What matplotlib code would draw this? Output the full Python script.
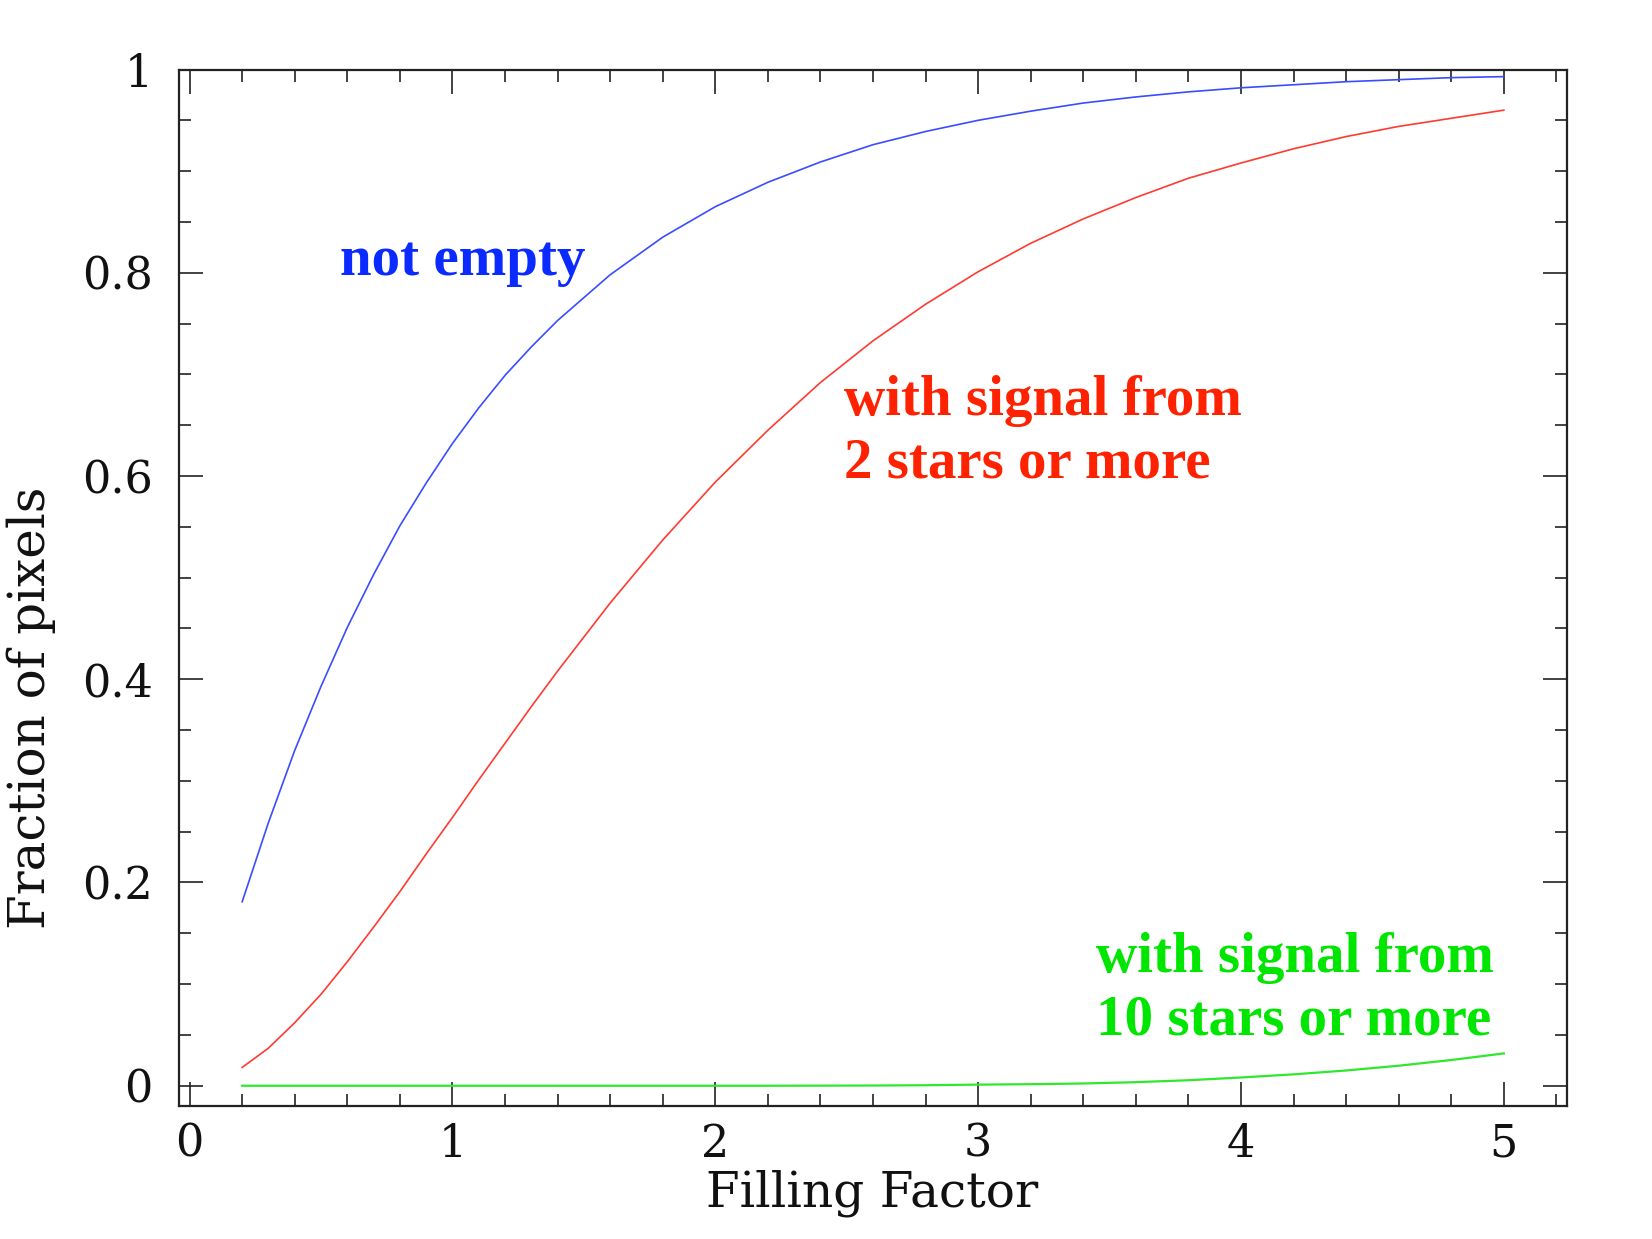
import matplotlib
matplotlib.use("Agg")
import matplotlib.pyplot as plt
from matplotlib.ticker import MultipleLocator, FuncFormatter

# Data
filling_factor = [0.2, 0.3, 0.4, 0.5, 0.6, 0.7, 0.8, 0.9, 1.0, 1.1, 1.2, 1.3, 1.4,
                  1.6, 1.8, 2.0, 2.2, 2.4, 2.6, 2.8, 3.0, 3.2, 3.4, 3.6, 3.8,
                  4.0, 4.2, 4.4, 4.6, 4.8, 5.0]
not_empty = [0.181, 0.259, 0.330, 0.393, 0.451, 0.503, 0.551, 0.593, 0.632, 0.667,
             0.699, 0.727, 0.753, 0.798, 0.835, 0.865, 0.889, 0.909, 0.926, 0.939,
             0.950, 0.959, 0.967, 0.973, 0.978, 0.982, 0.985, 0.988, 0.990, 0.992,
             0.993]
two_or_more = [0.018, 0.037, 0.062, 0.090, 0.122, 0.156, 0.191, 0.228, 0.264, 0.301,
               0.337, 0.373, 0.408, 0.475, 0.537, 0.594, 0.645, 0.692, 0.733, 0.769,
               0.801, 0.829, 0.853, 0.874, 0.893, 0.908, 0.922, 0.934, 0.944, 0.952,
               0.960]
ten_or_more = [0.0, 0.0, 0.0, 0.0, 0.0, 0.0, 0.0, 0.0, 0.0, 0.0, 0.0, 0.0, 0.0,
               0.0, 0.0, 0.0, 0.0, 0.0001, 0.0002, 0.0005, 0.0011, 0.0015, 0.0022,
               0.0035, 0.0054, 0.0081, 0.0112, 0.0150, 0.0197, 0.0253, 0.0318]

xlabel = "Filling Factor"
ylabel = "Fraction of pixels"
label_blue = "not empty"
label_red = "with signal from\n2 stars or more"
label_green = "with signal from\n10 stars or more"

c_blue_line, c_blue_text = "#3a4cff", "#0a2aff"
c_red_line, c_red_text = "#ff3a30", "#ff2200"
c_green_line, c_green_text = "#2ee82e", "#00e600"

fig = plt.figure(figsize=(16.52, 12.39), dpi=100)
ax = fig.add_axes([0.1084, 0.1073, 0.9485 - 0.1084, 0.9439 - 0.1073])

ax.plot(filling_factor, not_empty, color=c_blue_line, lw=1.2)
ax.plot(filling_factor, two_or_more, color=c_red_line, lw=1.2)
ax.plot(filling_factor, ten_or_more, color=c_green_line, lw=1.6)

ax.set_xlim(-0.04, 5.24)
ax.set_ylim(-0.02, 1.0)

ax.xaxis.set_major_locator(MultipleLocator(1))
ax.xaxis.set_minor_locator(MultipleLocator(0.2))
ax.yaxis.set_major_locator(MultipleLocator(0.2))
ax.yaxis.set_minor_locator(MultipleLocator(0.05))

ax.xaxis.set_major_formatter(FuncFormatter(lambda v, p: f"{v:g}"))
ax.yaxis.set_major_formatter(FuncFormatter(lambda v, p: f"{v:g}"))

for s in ax.spines.values():
    s.set_linewidth(1.6)
    s.set_color("#222222")

ax.tick_params(which="both", direction="in", top=True, right=True, color="#222222")
ax.tick_params(which="major", length=17, width=1.2)
ax.tick_params(which="minor", length=8.5, width=1.2)
ax.tick_params(axis="x", which="major", pad=12, labelsize=32)
ax.tick_params(axis="y", which="major", pad=19, labelsize=32)
for lab in ax.get_xticklabels() + ax.get_yticklabels():
    lab.set_family("DejaVu Serif")
    lab.set_color("#111111")

fig.text(0.528, 0.037, xlabel, ha="center", va="center", fontsize=35,
         family="DejaVu Serif", color="#111111")
fig.text(0.019, 0.4286, ylabel, ha="center", va="center", rotation=90, fontsize=36,
         family="DejaVu Serif", color="#111111")

tkw = dict(fontsize=41, fontweight="bold", family="Liberation Serif", ha="left",
           va="baseline", linespacing=1.25)
ax.text(0.573, 0.798, label_blue, color=c_blue_text, **tkw)
ax.text(2.49, 0.599, label_red, color=c_red_text, **tkw)
ax.text(3.45, 0.0507, label_green, color=c_green_text, **tkw)

fig.savefig("out.png", dpi=100, facecolor="white")
